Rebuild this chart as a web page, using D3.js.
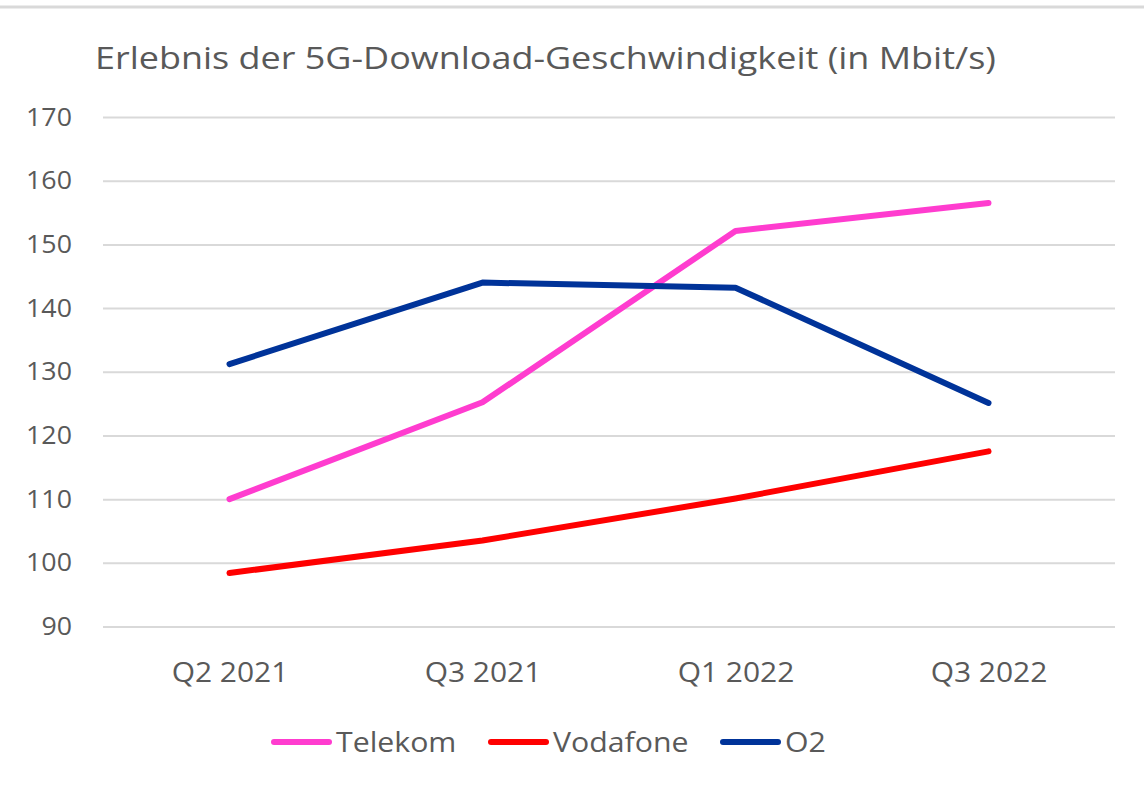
<!DOCTYPE html>
<meta charset="utf-8">
<head>
<style>
  body { margin: 0; background: #fff; }
  svg text { font-family: "Open Sans", sans-serif; fill: #595959; }
</style>
</head>
<body>
<div class="chart"></div>
<script src="https://d3js.org/d3.v7.min.js" charset="utf-8"></script>
<script>
const quarters = ['Q2 2021', 'Q3 2021', 'Q1 2022', 'Q3 2022'];
const telekom = [110, 125.2, 152.1, 156.5];
const vodafone = [98.4, 103.5, 110.1, 117.5];
const o2 = [131.2, 144, 143.2, 125.1];
const yTicks = [90, 100, 110, 120, 130, 140, 150, 160, 170];

const seriesNames = ['Telekom', 'Vodafone', 'O2'];
const seriesColors = ['#ff3ccf', '#ff0000', '#003399'];
const series = [telekom, vodafone, o2].map((values, i) => ({
  name: seriesNames[i],
  color: seriesColors[i],
  values: values
}));

const width = 1144;
const height = 787;
const plot = { left: 103, right: 1115, top: 117, bottom: 626.5 };

// the reference font runs a bit wider than Open Sans, so stretch text horizontally
function stretch(sel, k) {
  sel.each(function() {
    const len = this.getComputedTextLength();
    d3.select(this)
      .attr('textLength', len * k)
      .attr('lengthAdjust', 'spacingAndGlyphs');
  });
}

const svg = d3.select('.chart')
  .append('svg')
  .attr('width', width)
  .attr('height', height);

// outer chart border (only top edge visible in the reference)
svg.append('line')
  .attr('x1', 0).attr('x2', width)
  .attr('y1', 7).attr('y2', 7)
  .attr('stroke', '#d9d9d9')
  .attr('stroke-width', 3);

svg.append('text')
  .attr('x', 95)
  .attr('y', 69)
  .style('font-size', '31px')
  .text('Erlebnis der 5G-Download-Geschwindigkeit (in Mbit/s)')
  .call(stretch, 1.16);

const xScale = d3.scalePoint()
  .domain(quarters)
  .range([plot.left, plot.right])
  .padding(0.5);

const yScale = d3.scaleLinear()
  .domain([90, 170])
  .range([plot.bottom, plot.top]);

// gridlines + y labels
const yAxis = d3.axisLeft(yScale)
  .tickValues(yTicks)
  .tickSize(-(plot.right - plot.left))
  .tickPadding(31);

const yg = svg.append('g')
  .attr('transform', `translate(${plot.left}, 0)`)
  .call(yAxis);
yg.select('.domain').remove();
yg.selectAll('.tick line').attr('stroke', '#d9d9d9').attr('stroke-width', 2);
yg.selectAll('.tick text')
  .style('font-size', '25.5px')
  .style('fill', '#595959')
  .attr('font-family', null)
  .call(stretch, 1.05);

// x labels
const xAxis = d3.axisBottom(xScale).tickSize(0).tickPadding(36);
const xg = svg.append('g')
  .attr('transform', `translate(0, ${plot.bottom})`)
  .call(xAxis);
xg.select('.domain').remove();
xg.selectAll('.tick text')
  .style('font-size', '28px')
  .style('fill', '#595959')
  .attr('font-family', null)
  .call(stretch, 1.07);

const line = d3.line()
  .x((d, i) => xScale(quarters[i]))
  .y(d => yScale(d));

svg.selectAll('.series').data(series)
  .enter()
  .append('path')
  .attr('class', 'series')
  .attr('d', d => line(d.values))
  .attr('fill', 'none')
  .attr('stroke', d => d.color)
  .attr('stroke-width', 6)
  .attr('stroke-linecap', 'round')
  .attr('stroke-linejoin', 'round');

// legend
const legendX = [272, 489, 721];
const legend = svg.selectAll('.legend').data(series)
  .enter()
  .append('g')
  .attr('class', 'legend')
  .attr('transform', (d, i) => `translate(${legendX[i]}, 742)`);

legend.append('line')
  .attr('x1', 2).attr('x2', 57)
  .attr('stroke', d => d.color)
  .attr('stroke-width', 6)
  .attr('stroke-linecap', 'round');

legend.append('text')
  .attr('x', 64)
  .attr('dy', '0.35em')
  .style('font-size', '28px')
  .text(d => d.name)
  .call(stretch, 1.08);
</script>
</body>
